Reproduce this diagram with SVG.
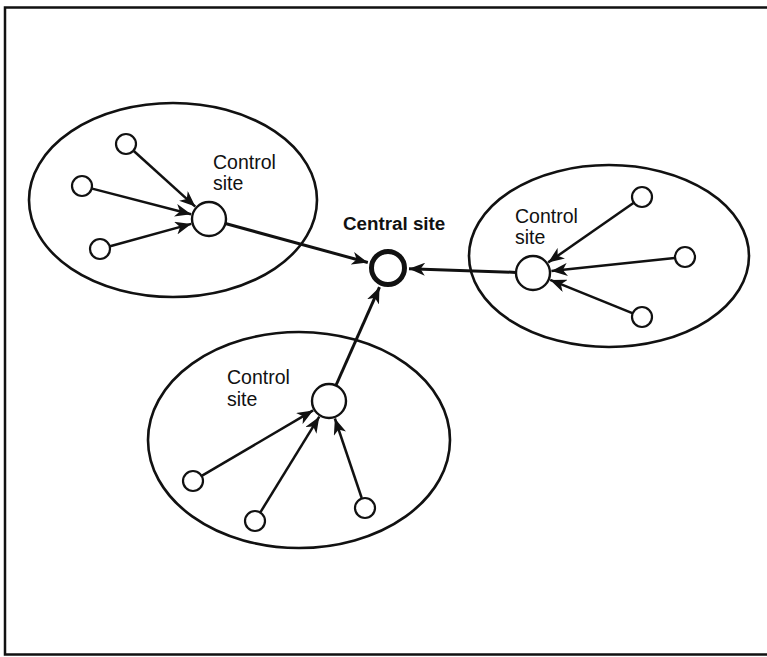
<svg xmlns="http://www.w3.org/2000/svg" width="767" height="657" viewBox="0 0 767 657">
<style>
.bg{fill:#fff}
.frame{fill:none;stroke:#111;stroke-width:2.5}
.ell{fill:none;stroke:#111;stroke-width:2.6}
.site{fill:#fff;stroke:#111;stroke-width:2.2}
.ctrl{fill:#fff;stroke:#111;stroke-width:2.4}
.central{fill:#fff;stroke:#111;stroke-width:5}
.lbl{font-family:"Liberation Sans",Arial,sans-serif;font-size:19.5px;fill:#111}
.clbl{font-family:"Liberation Sans",Arial,sans-serif;font-size:18.8px;font-weight:bold;fill:#111}
.edge{stroke:#111;stroke-width:2.5;fill:none;marker-end:url(#arr)}
.main{stroke:#111;stroke-width:3;fill:none;marker-end:url(#arr)}
</style>
<defs>
<marker id="arr" markerUnits="userSpaceOnUse" markerWidth="17" markerHeight="13" refX="16" refY="6.5" orient="auto">
<path d="M0,0 L16,6.5 L0,13 L4.5,6.5 z" fill="#111"/>
</marker>
</defs>
<rect class="bg" x="0" y="0" width="767" height="657"/>
<rect class="frame" x="5" y="7.5" width="775" height="647"/>

<g id="left-ellipse"><ellipse class="ell" cx="173" cy="200" rx="144" ry="97"/></g>
<g id="right-ellipse"><ellipse class="ell" cx="609" cy="256" rx="140" ry="91"/></g>
<g id="bottom-ellipse"><ellipse class="ell" cx="299" cy="440" rx="151" ry="108"/></g>

<g id="connectors">
<line class="edge" x1="133.8" y1="151" x2="195.3" y2="206.6"/>
<line class="edge" x1="92.2" y1="188.6" x2="191.1" y2="214.3"/>
<line class="edge" x1="110.1" y1="246.2" x2="191.2" y2="223.9"/>
<line class="main" x1="225.4" y1="223.5" x2="367.8" y2="262.5"/>
<line class="edge" x1="633.4" y1="203" x2="548.2" y2="262.4"/>
<line class="edge" x1="674.6" y1="258.1" x2="551.4" y2="271.1"/>
<line class="edge" x1="632.3" y1="313.1" x2="550.2" y2="279.9"/>
<line class="main" x1="516" y1="272.4" x2="409" y2="268.7"/>
<line class="edge" x1="202.1" y1="475.7" x2="313.1" y2="410.4"/>
<line class="edge" x1="260.5" y1="512.1" x2="319.3" y2="416.7"/>
<line class="edge" x1="361.7" y1="498" x2="334.9" y2="418.5"/>
<line class="main" x1="335.9" y1="385.5" x2="379.5" y2="287.2"/>
</g>

<g id="central-site">
<circle class="central" cx="388" cy="268" r="16.5"/>
<text class="clbl" x="343" y="230">Central site</text>
</g>

<g id="left-control">
<circle class="ctrl" cx="209" cy="219" r="17"/>
<text class="lbl" x="213" y="169">Control</text>
<text class="lbl" x="213" y="190">site</text>
</g>
<g id="left-s1"><circle class="site" cx="126" cy="144" r="10"/></g>
<g id="left-s2"><circle class="site" cx="82" cy="186" r="10"/></g>
<g id="left-s3"><circle class="site" cx="100" cy="249" r="10"/></g>

<g id="right-control">
<circle class="ctrl" cx="533" cy="273" r="17"/>
<text class="lbl" x="515" y="223">Control</text>
<text class="lbl" x="515" y="244">site</text>
</g>
<g id="right-s1"><circle class="site" cx="642" cy="197" r="10"/></g>
<g id="right-s2"><circle class="site" cx="685" cy="257" r="10"/></g>
<g id="right-s3"><circle class="site" cx="642" cy="317" r="10"/></g>

<g id="bottom-control">
<circle class="ctrl" cx="329" cy="401" r="17"/>
<text class="lbl" x="227" y="384">Control</text>
<text class="lbl" x="227" y="406">site</text>
</g>
<g id="bottom-s1"><circle class="site" cx="193" cy="481" r="10"/></g>
<g id="bottom-s2"><circle class="site" cx="255" cy="521" r="10"/></g>
<g id="bottom-s3"><circle class="site" cx="365" cy="508" r="10"/></g>
</svg>
